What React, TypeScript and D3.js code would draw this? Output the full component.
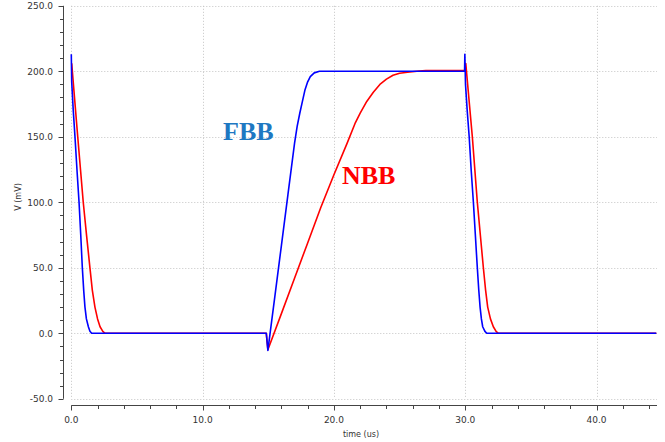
import React from "react";
import * as d3 from "d3";

// Transient waveforms: forward body bias (FBB) vs no body bias (NBB)
const fbbTime = [
  0, 0.03, 0.15, 0.28, 0.45, 0.59, 0.72, 0.84, 0.95, 1.04, 1.15, 1.3, 1.42, 1.55,
  14.85, 14.97, 15.5, 16, 16.5, 17, 17.2, 17.4, 17.6, 17.8, 18, 18.2, 18.5, 18.9,
  29.95, 29.97, 30.02, 30.15, 30.3, 30.45, 30.62, 30.77, 30.92, 31.03, 31.13, 31.23,
  31.33, 31.5, 31.64, 44.55,
];
const fbbVolt = [
  213, 192, 170, 150, 122, 100, 75, 50, 32, 20, 11, 5, 1.5, 0,
  0, -13, 28, 67, 106, 145, 158, 168, 177, 186, 192, 196, 198.8, 200,
  200, 213, 190, 170, 150, 125, 100, 75, 50, 33, 20, 11,
  5, 1.5, 0, 0,
];

const nbbTime = [
  0.03, 0.49, 0.7, 0.91, 1.16, 1.42, 1.6, 1.8, 2.0, 2.19, 2.4, 2.57,
  14.85, 14.97, 16, 17, 18, 19, 20, 21, 21.6, 22, 22.5, 23, 23.5, 24, 24.5, 25,
  25.6, 26.5, 27, 30.0, 30.04, 30.54, 30.92, 31.15, 31.38, 31.55, 31.71, 31.92,
  32.14, 32.35, 32.52, 44.55,
];
const nbbVolt = [
  206, 150, 125, 100, 75, 50, 33, 20, 11, 5, 1.5, 0,
  0, -12.5, 15, 42, 69, 96, 121, 145, 160, 168, 177, 184, 190, 194, 197, 198.5,
  199.3, 200.2, 200.5, 200.5, 206, 150, 100, 75, 50, 33, 20, 11,
  5, 1.5, 0, 0,
];

const xMajorTicks = [0, 10, 20, 30, 40];
const yMajorTicks = [-50, 0, 50, 100, 150, 200, 250];

const W = 665;
const H = 442;
const tickFont = "'DejaVu Sans', Verdana, sans-serif";

export default function App() {
  const x = d3.scaleLinear().domain([0, 44.55]).range([71.3, 656.3]);
  const y = d3.scaleLinear().domain([-50, 250]).range([398.8, 5.8]);

  const yAxisX = 63.5;
  const xAxisY = 405.5;

  const xMinor = d3.range(0, 44.6, 2);
  const yMinor = d3.range(-50, 251, 10);

  const line = d3
    .line<[number, number]>()
    .x((d) => x(d[0]))
    .y((d) => y(d[1]));

  const fbb = fbbTime.map((t, i) => [t, fbbVolt[i]] as [number, number]);
  const nbb = nbbTime.map((t, i) => [t, nbbVolt[i]] as [number, number]);

  return (
    <svg
      width={W}
      height={H}
      style={{ position: "absolute", left: 0, top: 0, background: "#fff" }}
    >
      {/* grid */}
      <g stroke="#c4c4c4" strokeWidth={1} strokeDasharray="1,2">
        {yMajorTicks.map((v) => (
          <line key={"gy" + v} x1={x(0)} x2={657} y1={Math.round(y(v)) + 0.5} y2={Math.round(y(v)) + 0.5} />
        ))}
        {xMajorTicks.map((v) => (
          <line key={"gx" + v} x1={Math.round(x(v)) + 0.5} x2={Math.round(x(v)) + 0.5} y1={y(250)} y2={y(-50)} />
        ))}
      </g>

      {/* y axis */}
      <g stroke="#444" strokeWidth={1}>
        <line x1={yAxisX} x2={yAxisX} y1={y(250)} y2={y(-50)} />
        {yMinor.map((v) => {
          const major = v % 50 === 0;
          const yy = Math.round(y(v)) + 0.5;
          return <line key={"ty" + v} x1={yAxisX - (major ? 5 : 3.5)} x2={yAxisX} y1={yy} y2={yy} />;
        })}
      </g>
      <g fontFamily={tickFont} fontSize={9} fill="#333" textAnchor="end">
        {yMajorTicks.map((v) => (
          <text key={"ly" + v} x={53} y={y(v) + 3.5}>
            {v.toFixed(1)}
          </text>
        ))}
      </g>
      <text
        transform={`translate(21,${197}) rotate(-90)`}
        fontFamily={tickFont}
        fontSize={8}
        fill="#333"
        textAnchor="middle"
      >
        V (mV)
      </text>

      {/* x axis */}
      <g stroke="#444" strokeWidth={1}>
        <line x1={x(0)} x2={657} y1={xAxisY} y2={xAxisY} />
        {xMinor.map((v) => {
          const major = v % 10 === 0;
          const xx = Math.round(x(v)) + 0.5;
          return <line key={"tx" + v} x1={xx} x2={xx} y1={xAxisY} y2={xAxisY + (major ? 5 : 3.5)} />;
        })}
      </g>
      <g fontFamily={tickFont} fontSize={9} fill="#333" textAnchor="middle">
        {xMajorTicks.map((v) => (
          <text key={"lx" + v} x={x(v)} y={423}>
            {v.toFixed(1)}
          </text>
        ))}
      </g>
      <text x={361} y={437} fontFamily={tickFont} fontSize={8} fill="#333" textAnchor="middle">
        time (us)
      </text>

      {/* waveforms */}
      <path d={line(nbb) ?? ""} fill="none" stroke="#ff0000" strokeWidth={1.6} strokeLinejoin="round" />
      <path d={line(fbb) ?? ""} fill="none" stroke="#0000ff" strokeWidth={1.6} strokeLinejoin="round" />

      {/* series labels */}
      <text
        x={223}
        y={140}
        fontFamily="'Liberation Serif', 'Times New Roman', serif"
        fontWeight="bold"
        fontSize={26}
        fill="#1e78c2"
      >
        FBB
      </text>
      <text
        x={342}
        y={184}
        fontFamily="'Liberation Serif', 'Times New Roman', serif"
        fontWeight="bold"
        fontSize={26}
        fill="#ff0000"
      >
        NBB
      </text>
    </svg>
  );
}
